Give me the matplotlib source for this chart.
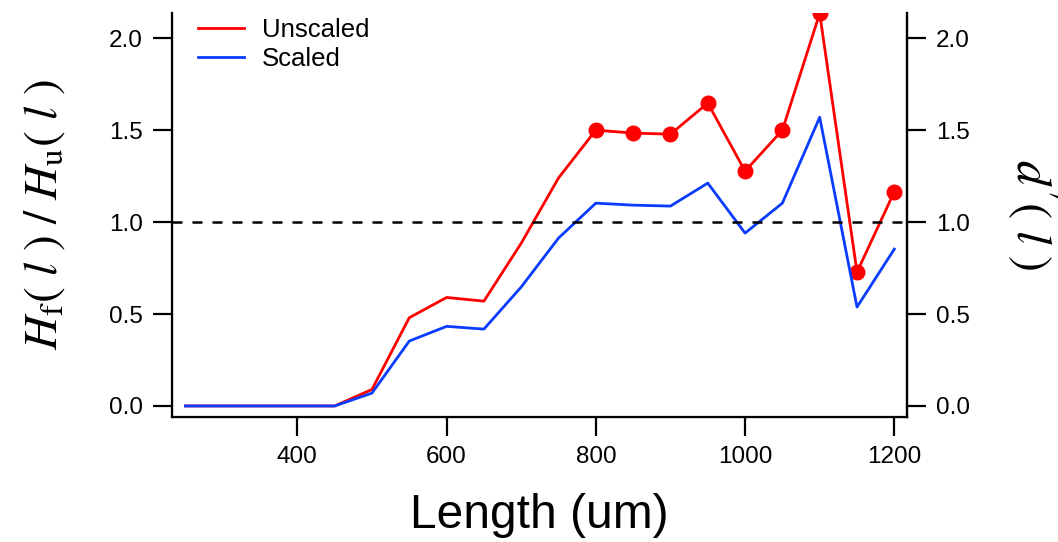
import matplotlib
matplotlib.use("Agg")
import matplotlib.pyplot as plt

plt.rcParams['font.family'] = ['Liberation Sans', 'DejaVu Sans']
plt.rcParams['mathtext.fontset'] = 'stix'

length_um = [250, 300, 350, 400, 450, 500, 550, 600, 650, 700, 750, 800,
             850, 900, 950, 1000, 1050, 1100, 1150, 1200]
unscaled = [0.0, 0.0, 0.0, 0.0, 0.0, 0.09, 0.48, 0.59, 0.57, 0.885, 1.24, 1.50,
            1.484, 1.478, 1.647, 1.277, 1.50, 2.135, 0.728, 1.165]
scaled = [0.0, 0.0, 0.0, 0.0, 0.0, 0.07, 0.353, 0.433, 0.418, 0.647, 0.913, 1.103,
          1.092, 1.087, 1.212, 0.94, 1.103, 1.57, 0.538, 0.853]
marker_start = 11  # points from 800 um onward carry markers
x_ticks = [400, 600, 800, 1000, 1200]
y_ticks = [0.0, 0.5, 1.0, 1.5, 2.0]
reference_level = 1.0

fig = plt.figure(figsize=(10.58, 5.42), dpi=100)
ax = fig.add_axes([172 / 1058, 1 - 417 / 542, (907 - 172) / 1058, (417 - 13) / 542])

red = '#ff0000'
blue = '#0a3cff'

ax.plot(length_um, unscaled, color=red, lw=2.0, label='Unscaled')
ax.plot(length_um[marker_start:], unscaled[marker_start:], 'o', color=red,
        ms=10.5, lw=0)
ax.plot(length_um, scaled, color=blue, lw=2.0, label='Scaled')
ax.axhline(reference_level, color='black', lw=1.8, ls=(0, (4, 4)))

ax.set_xlim(232, 1217)
ax.set_ylim(-0.06, 2.137)
ax.set_xticks(x_ticks)
ax.set_yticks(y_ticks)
ax.set_yticklabels([f'{v:.1f}' for v in y_ticks])

for side in ['left', 'bottom', 'right']:
    ax.spines[side].set_linewidth(1.6)
ax.spines['top'].set_visible(False)

ax.tick_params(axis='both', direction='out', length=14, width=1.6,
               labelsize=17.5, pad=7)

ax2 = ax.twinx()
ax2.set_ylim(ax.get_ylim())
ax2.set_yticks(y_ticks)
ax2.set_yticklabels([f'{v:.1f}' for v in y_ticks])
ax2.spines['top'].set_visible(False)
ax2.spines['right'].set_linewidth(1.6)
ax2.tick_params(axis='y', direction='out', length=14, width=1.6,
                labelsize=17.5, pad=7)

ax.set_xlabel('Length (um)', fontsize=34.5, labelpad=18)
ax.set_ylabel(r'$H_{\mathrm{f}}(\ l\ )\ /\ H_{\mathrm{u}}(\ l\ )$', fontsize=34,
              labelpad=30)
ax2.set_ylabel(r"$d'(\ l\ )$", fontsize=35, rotation=270, labelpad=64)

leg = ax.legend(loc='upper left', bbox_to_anchor=(0.004, 1.045), frameon=False,
                fontsize=18.5, handlelength=1.8, handletextpad=0.7,
                labelspacing=0.2)

fig.savefig('out.png', dpi=100)
